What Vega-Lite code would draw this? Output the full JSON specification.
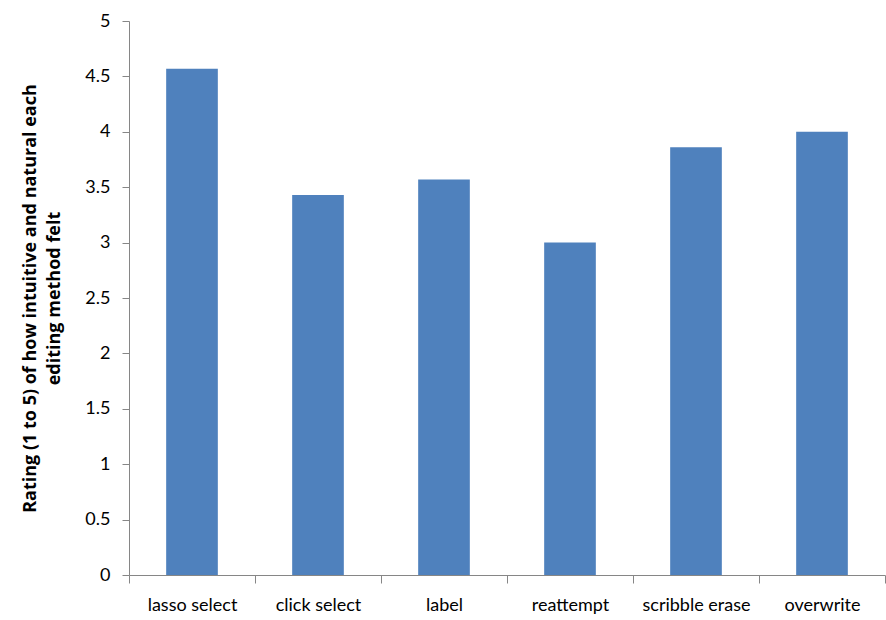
{
  "$schema": "https://vega.github.io/schema/vega-lite/v6.json",
  "width": 756,
  "height": 554,
  "autosize": {"type": "none"},
  "padding": {"left": 129, "top": 21, "right": 1, "bottom": 45},
  "background": "white",
  "config": {"view": {"stroke": null}},
  "data": {"values": [
    {"method": "lasso select", "rating": 4.57},
    {"method": "click select", "rating": 3.43},
    {"method": "label", "rating": 3.57},
    {"method": "reattempt", "rating": 3.0},
    {"method": "scribble erase", "rating": 3.86},
    {"method": "overwrite", "rating": 4.0}
  ]},
  "mark": {"type": "bar", "color": "#4F81BD", "width": {"band": 0.41}},
  "encoding": {
    "x": {
      "field": "method", "type": "nominal", "sort": null,
      "scale": {"paddingInner": 0, "paddingOuter": 0},
      "axis": {
        "title": null, "labelAngle": 0, "ticks": true, "tickBand": "extent", "tickExtra": true,
        "domainColor": "#868686", "tickColor": "#868686", "tickSize": 8, "tickWidth": 1,
        "labelFont": "Lato", "labelFontSize": 18, "labelColor": "#000000",
        "labelPadding": 13, "labelBaseline": "top"
      }
    },
    "y": {
      "field": "rating", "type": "quantitative",
      "scale": {"domain": [0, 5]},
      "axis": {
        "values": [0, 0.5, 1, 1.5, 2, 2.5, 3, 3.5, 4, 4.5, 5],
        "format": "~g",
        "grid": false,
        "title": ["Rating (1 to 5) of how intuitive and natural each", "editing method felt"],
        "titleFont": "Open Sans", "titleFontSize": 18, "titleFontWeight": "bold", "titleColor": "#000000",
        "titlePadding": 21, "titleLineHeight": 24, "titleLimit": 1000,
        "domainColor": "#868686", "tickColor": "#868686", "tickSize": 7,
        "labelFont": "Lato", "labelFontSize": 18, "labelColor": "#000000", "labelPadding": 12
      }
    }
  }
}
